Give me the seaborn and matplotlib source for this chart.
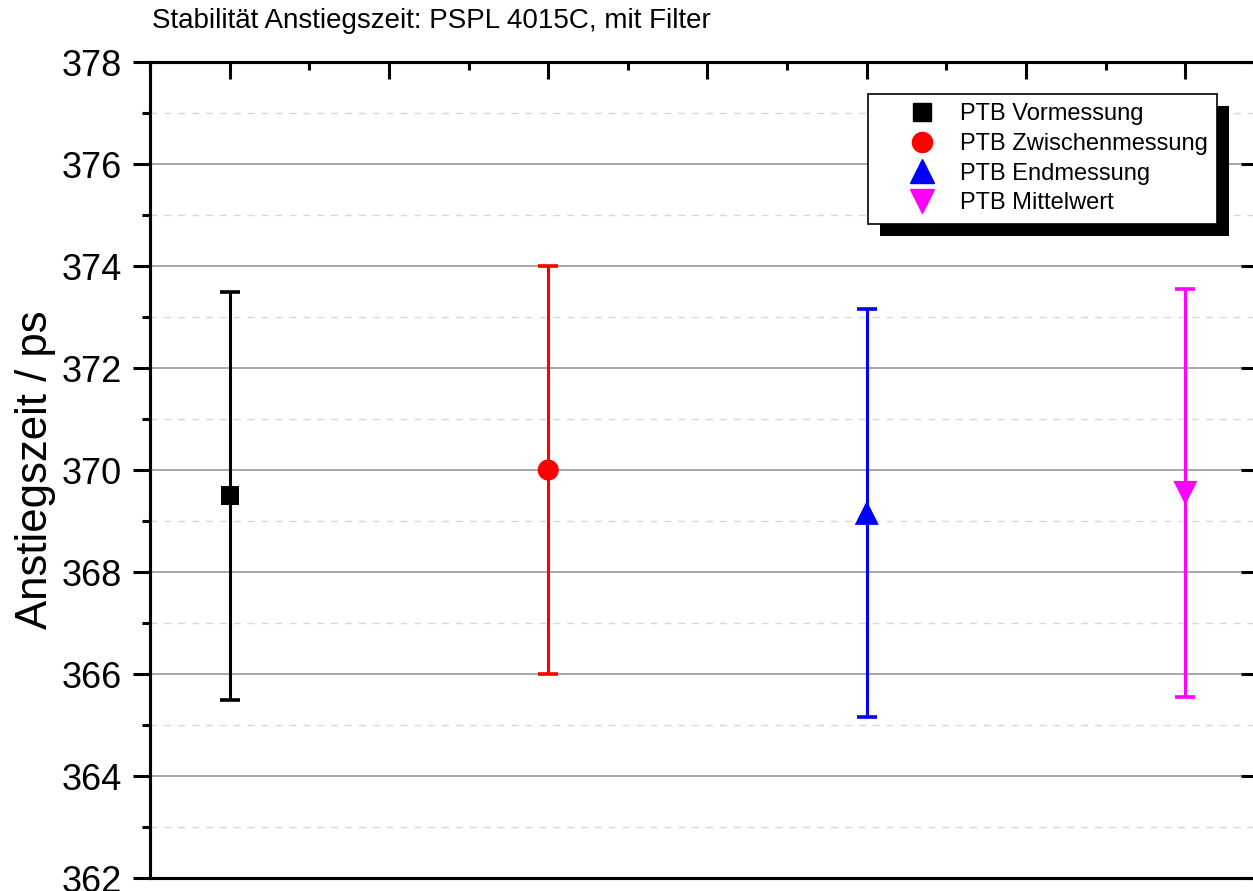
import pandas as pd
import matplotlib.pyplot as plt
import seaborn as sns
from matplotlib.lines import Line2D
from matplotlib.patches import Rectangle
from matplotlib.ticker import MultipleLocator

# DATEN
messungen = ["PTB Vormessung", "PTB Zwischenmessung", "PTB Endmessung", "PTB Mittelwert"]
position = [1, 2, 3, 4]
anstiegszeit = [369.5, 370.0, 369.16, 369.55]
unsicherheit = [4.0, 4.0, 4.0, 4.0]
farben = ["#000000", "#ff0000", "#0000ff", "#ff00ff"]
marker = ["s", "o", "^", "v"]
marker_groesse = [170, 230, 300, 300]

df = pd.DataFrame({
    "messung": messungen,
    "x": position,
    "y": anstiegszeit,
    "u": unsicherheit,
})

sns.set_theme(style="white")
plt.rcParams["font.family"] = ["Liberation Sans", "DejaVu Sans"]
plt.rcParams["text.color"] = "black"
plt.rcParams["axes.labelcolor"] = "black"
plt.rcParams["xtick.color"] = "black"
plt.rcParams["ytick.color"] = "black"

fig = plt.figure(figsize=(12.53, 8.91), dpi=100)
ax = fig.add_axes([150 / 1253, 13 / 891, 1115 / 1253, 816 / 891])

# FEHLERBALKEN
for i, row in df.iterrows():
    ax.errorbar(row["x"], row["y"], yerr=row["u"], fmt="none",
                ecolor=farben[i], elinewidth=2.2, capsize=7, capthick=2.6, zorder=3)

# PUNKTE
sns.scatterplot(data=df, x="x", y="y", hue="messung", style="messung",
                palette=dict(zip(messungen, farben)),
                markers=dict(zip(messungen, marker)),
                size="messung", sizes=dict(zip(messungen, marker_groesse)),
                edgecolor="none", legend=False, ax=ax, zorder=4)

# ACHSEN
ax.set_xlim(0.75, 4.25)
ax.set_ylim(362, 378)
ax.yaxis.set_major_locator(MultipleLocator(2))
ax.yaxis.set_minor_locator(MultipleLocator(1))
ax.xaxis.set_major_locator(MultipleLocator(0.5))
ax.xaxis.set_minor_locator(MultipleLocator(0.25))
ax.set_xlabel("")
ax.set_ylabel("Anstiegszeit / ps", fontsize=31.5, labelpad=4, color="black")

ax.grid(which="major", axis="y", color="#a0a0a0", linewidth=1.3, linestyle="-")
ax.grid(which="minor", axis="y", color="#d8d8d8", linewidth=1.0, linestyle=(0, (5, 5)))
ax.grid(which="both", axis="x", visible=False)
ax.set_axisbelow(True)

for s in ax.spines.values():
    s.set_color("black")
    s.set_linewidth(2.2)

ax.tick_params(axis="y", which="major", direction="out", length=12, width=2.2, pad=8,
               labelsize=26, left=True, right=False, colors="black")
ax.tick_params(axis="y", which="minor", direction="out", length=6, width=2.2, left=True)
ax.tick_params(axis="x", which="major", direction="in", length=12, width=2.2,
               top=True, bottom=False, labelbottom=False)
ax.tick_params(axis="x", which="minor", direction="in", length=6, width=2.2,
               top=True, bottom=False)

# rechte Seite: Striche nach innen
ax2 = ax.twinx()
ax2.set_ylim(362, 378)
ax2.yaxis.set_major_locator(MultipleLocator(2))
ax2.yaxis.set_minor_locator(MultipleLocator(1))
ax2.tick_params(axis="y", which="major", direction="in", length=17, width=2.2, labelright=False)
ax2.tick_params(axis="y", which="minor", direction="in", length=8, width=2.2)
for s in ax2.spines.values():
    s.set_color("black")
    s.set_linewidth(2.2)

fig.text(152 / 1253, 1 - 21 / 891, "Stabilität Anstiegszeit: PSPL 4015C, mit Filter",
         fontsize=20, ha="left", va="center", color="black")

# LEGENDE
handles = [Line2D([], [], linestyle="none", marker=m, color=c, markersize=ms)
           for m, c, ms in zip(marker, farben, [13, 14.5, 17, 17])]
leg = ax2.legend(handles, messungen, loc="upper left",
                 bbox_to_anchor=((868 - 150) / 1115, 1 - (94 - 62) / 816),
                 frameon=True, fancybox=False, edgecolor="black", framealpha=1,
                 fontsize=17, handletextpad=-0.3, labelspacing=0.32,
                 borderpad=0.4, handlelength=3.8, borderaxespad=0)
leg.get_frame().set_linewidth(1.2)
leg.set_zorder(10)

fig.canvas.draw()
bb = leg.get_frame().get_window_extent()
schatten = Rectangle((bb.x0 + 12, bb.y0 - 12), bb.width, bb.height,
                     transform=None, facecolor="black", edgecolor="none", zorder=9)
ax2.add_artist(schatten)

fig.savefig("out.png", dpi=100)
